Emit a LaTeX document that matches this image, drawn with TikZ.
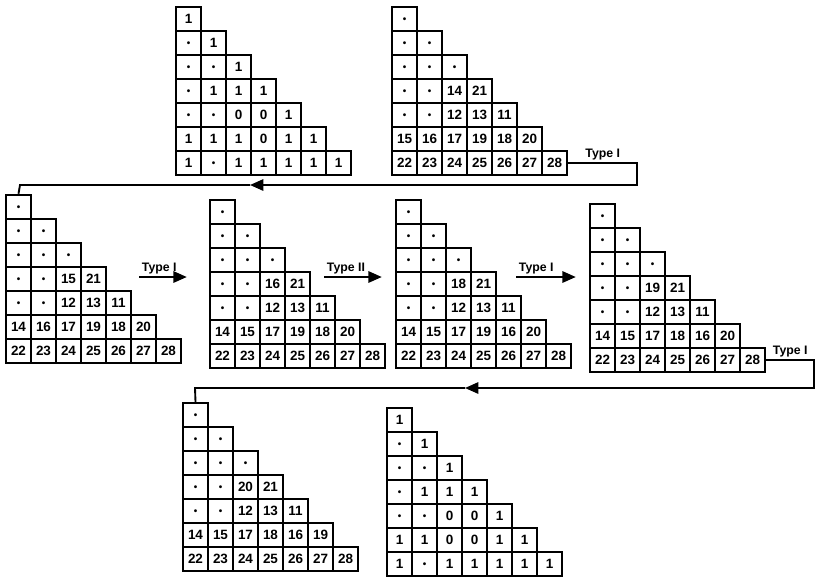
\documentclass[tikz,border=0pt]{standalone}
\usepackage{fontspec}
\setmainfont{Liberation Sans}
\usetikzlibrary{arrows.meta}
\tikzset{
  >={Triangle[length=4mm,width=3.4mm]},
  cell/.style={draw,line width=2.1pt,minimum width=7.5mm,minimum height=7.2mm,inner sep=0pt,
    font=\fontsize{11.5}{13}\selectfont\bfseries,text height=2.9mm,text depth=0pt},
  turn/.style={->,line width=1.6pt},
  link/.style={line width=1.6pt},
  tag/.style={font=\fontsize{10.5}{12}\selectfont\bfseries,inner sep=1.5pt},
}
\newcommand{\dt}{\raisebox{1pt}{\fontsize{8.5}{9}\selectfont\textbullet}}
% one staircase of cells: name, left, top, rows
\newcommand{\stair}[4]{%
  \foreach \row [count=\r] in {#4}{
    \foreach \v [count=\k] in \row
      \node[cell] (#1-\r-\k) at ({#2+(\k-0.5)*25},{#3+(\r-0.5)*24}) {\v};
  }}

\begin{document}
\begin{tikzpicture}[x=0.3mm,y=-0.3mm]
  \useasboundingbox (0,0) rectangle (815,581);
  % top row
  \stair{t1}{176}{7}{{1},{\dt,1},{\dt,\dt,1},{\dt,1,1,1},{\dt,\dt,0,0,1},{1,1,1,0,1,1},{1,\dt,1,1,1,1,1}}
  \stair{t2}{392}{7}{{\dt},{\dt,\dt},{\dt,\dt,\dt},{\dt,\dt,14,21},{\dt,\dt,12,13,11},{15,16,17,19,18,20},{22,23,24,25,26,27,28}}
  % middle row
  \stair{t3}{6}{195}{{\dt},{\dt,\dt},{\dt,\dt,\dt},{\dt,\dt,15,21},{\dt,\dt,12,13,11},{14,16,17,19,18,20},{22,23,24,25,26,27,28}}
  \stair{t4}{210}{200}{{\dt},{\dt,\dt},{\dt,\dt,\dt},{\dt,\dt,16,21},{\dt,\dt,12,13,11},{14,15,17,19,18,20},{22,23,24,25,26,27,28}}
  \stair{t5}{396}{200}{{\dt},{\dt,\dt},{\dt,\dt,\dt},{\dt,\dt,18,21},{\dt,\dt,12,13,11},{14,15,17,19,16,20},{22,23,24,25,26,27,28}}
  \stair{t6}{590}{204}{{\dt},{\dt,\dt},{\dt,\dt,\dt},{\dt,\dt,19,21},{\dt,\dt,12,13,11},{14,15,17,18,16,20},{22,23,24,25,26,27,28}}
  % bottom row
  \stair{t7}{183}{403}{{\dt},{\dt,\dt},{\dt,\dt,\dt},{\dt,\dt,20,21},{\dt,\dt,12,13,11},{14,15,17,18,16,19},{22,23,24,25,26,27,28}}
  \stair{t8}{387}{408}{{1},{\dt,1},{\dt,\dt,1},{\dt,1,1,1},{\dt,\dt,0,0,1},{1,1,0,0,1,1},{1,\dt,1,1,1,1,1}}

  \coordinate (back1) at (250,185);
  \draw[turn] (t2-7-7.east) -- node[tag,above]{Type I} ++(69,0) |- (back1);
  \draw[link] (back1) -- (20,185) -- (t3-1-1.north);

  \draw[turn] ([xshift=9.6mm,yshift=0.6mm]t3-4-4.east) -- node[tag,pos=0,anchor=south west]{Type I}
    ([xshift=-6.6mm,yshift=0.6mm]t3-4-4.east -| t4-4-1.west);
  \draw[turn] ([xshift=3.9mm,yshift=2.1mm]t4-4-4.east) -- node[tag,pos=0,anchor=south west]{Type II}
    ([xshift=-3.9mm,yshift=2.1mm]t4-4-4.east -| t5-4-1.west);
  \draw[turn] ([xshift=5.7mm,yshift=2.1mm]t5-4-4.east) -- node[tag,pos=0,anchor=south west]{Type I}
    ([xshift=-3.9mm,yshift=2.1mm]t5-4-4.east -| t6-4-1.west);

  \coordinate (back2) at (465,388);
  \draw[turn] (t6-7-7.east) -- node[tag,above]{Type I} ++(48,0) |- (back2);
  \draw[link] (back2) -- (195,388) -- (t7-1-1.north);
\end{tikzpicture}
\end{document}
